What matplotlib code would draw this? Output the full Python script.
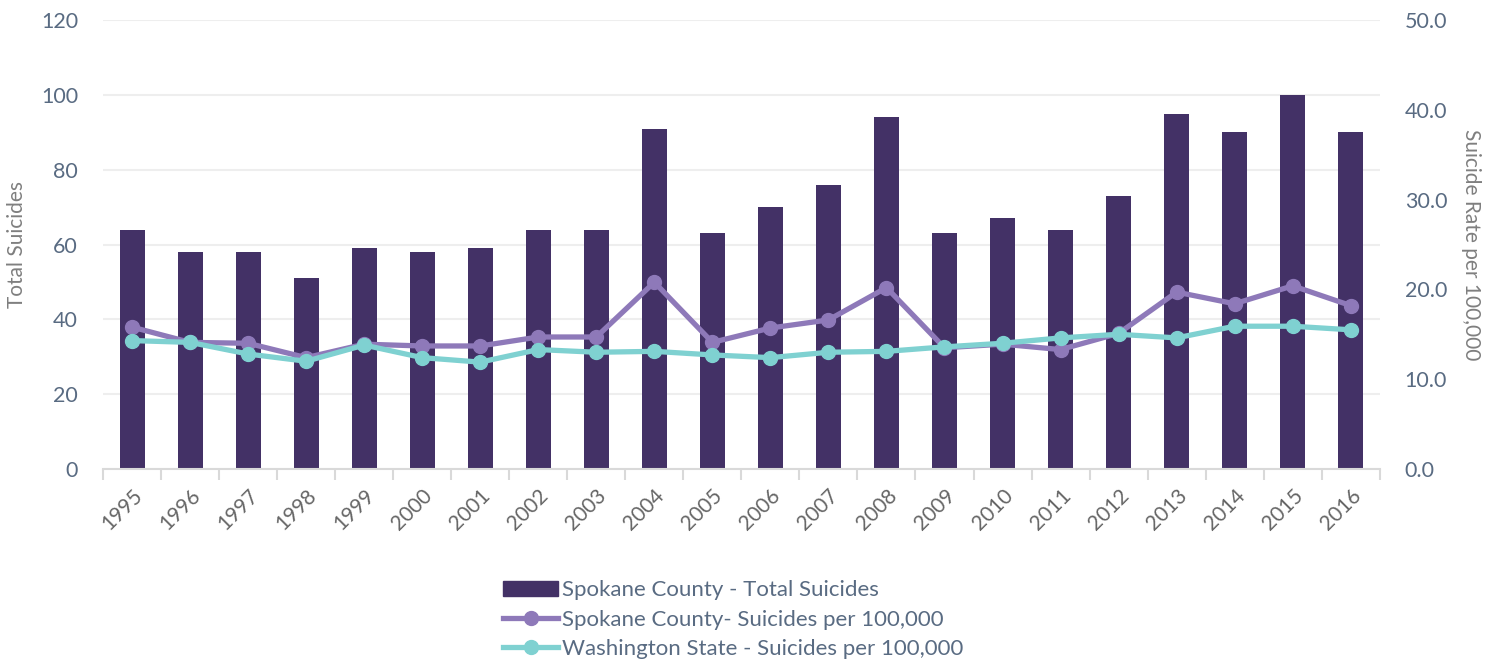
import numpy as np
import matplotlib.pyplot as plt
from matplotlib.lines import Line2D
from matplotlib.patches import Patch

years = [str(y) for y in range(1995, 2017)]
total_suicides = [64, 58, 58, 51, 59, 58, 59, 64, 64, 91, 63, 70, 76, 94, 63, 67, 64, 73, 95, 90, 100, 90]
spokane_rate = [15.8, 14.1, 14.0, 12.4, 13.9, 13.7, 13.7, 14.7, 14.7, 20.8, 14.1, 15.7, 16.6, 20.2,
                13.5, 13.9, 13.3, 15.1, 19.7, 18.4, 20.4, 18.2]
wa_rate = [14.3, 14.1, 12.8, 12.0, 13.8, 12.4, 11.9, 13.3, 13.0, 13.1, 12.7, 12.4, 13.0, 13.1,
           13.6, 14.0, 14.6, 15.0, 14.6, 15.9, 15.9, 15.5]

plt.rcParams['font.family'] = ['Lato', 'DejaVu Sans']

bar_color = '#433166'
purple = '#8e79b9'
teal = '#7fd1d1'
tick_color = '#596b82'
label_color = '#7f7f7f'

fig = plt.figure(figsize=(14.94, 6.69), dpi=100)
ax = fig.add_axes([0.069, 0.299, 0.8545, 0.671])
ax2 = ax.twinx()

x = np.arange(len(years))
ax.bar(x, total_suicides, width=0.43, color=bar_color, zorder=2)
ax.set_ylim(0, 120)
ax.set_yticks(range(0, 121, 20))
ax.set_xlim(-0.5, len(years) - 0.5)
ax.grid(axis='y', color='#eeeeee', linewidth=1.5, zorder=0)
ax.set_axisbelow(True)

ax2.plot(x, spokane_rate, color=purple, lw=3.8, marker='o', markersize=10, zorder=3)
ax2.plot(x, wa_rate, color=teal, lw=3.8, marker='o', markersize=10, zorder=4)
ax2.set_ylim(0, 50)
ax2.set_yticks(range(0, 51, 10))
ax2.set_yticklabels([f'{v:.1f}' for v in range(0, 51, 10)])

# year labels at centers, tick marks at category boundaries
ax.set_xticks(x)
ax.set_xticklabels(years, rotation=45, ha='right', rotation_mode='anchor',
                   fontsize=15, color='#666666')
ax.tick_params(axis='x', length=0, pad=12)
ax.set_xticks(np.arange(-0.5, len(years), 1), minor=True)
ax.tick_params(axis='x', which='minor', length=8, width=1.5, color='#d9d9d9', direction='out')

for a in (ax, ax2):
    for s in a.spines.values():
        s.set_visible(False)
ax.spines['bottom'].set_visible(True)
ax.spines['bottom'].set_color('#d9d9d9')
ax.spines['bottom'].set_linewidth(1.5)

ax.tick_params(axis='y', length=0, labelsize=15.5, labelcolor=tick_color, pad=18)
ax2.tick_params(axis='y', length=0, labelsize=15.5, labelcolor=tick_color, pad=18)

ax.set_ylabel('Total Suicides', fontsize=15, color=label_color, labelpad=10)
ax2.set_ylabel('Suicide Rate per 100,000', fontsize=15, color=label_color, rotation=270,
               labelpad=24)

handles = [
    Patch(color=bar_color),
    Line2D([], [], color=purple, lw=3.8, marker='o', markersize=10),
    Line2D([], [], color=teal, lw=3.8, marker='o', markersize=10),
]
labels = ['Spokane County - Total Suicides', 'Spokane County- Suicides per 100,000',
          'Washington State - Suicides per 100,000']
leg = fig.legend(handles, labels, loc='lower left', bbox_to_anchor=(0.328, -0.005),
                 frameon=False, fontsize=16, handlelength=2.45, handletextpad=0.2,
                 labelspacing=0.42, borderaxespad=0.2)
for t in leg.get_texts():
    t.set_color(tick_color)

fig.savefig('out.png', dpi=100)
